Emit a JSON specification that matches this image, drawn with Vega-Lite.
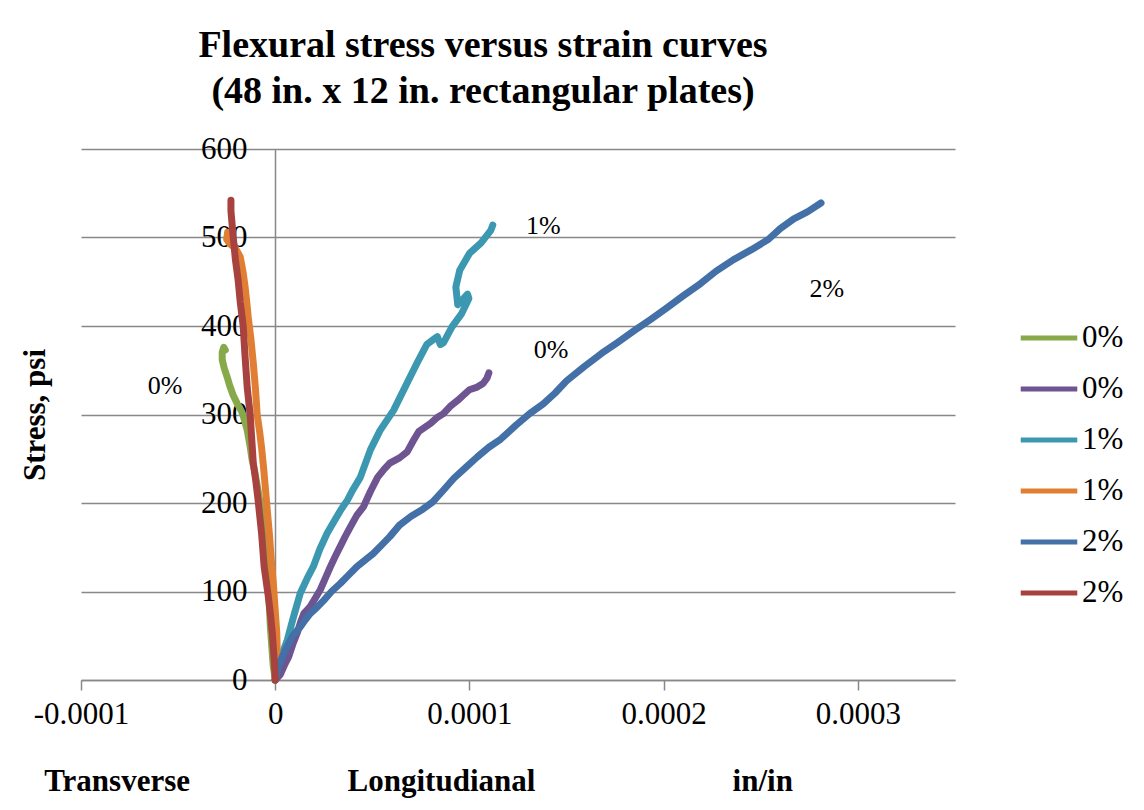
{
  "$schema": "https://vega.github.io/schema/vega-lite/v6.json",
  "width": 874,
  "height": 531,
  "autosize": "none",
  "padding": {"left": 81, "top": 149, "right": 189, "bottom": 130},
  "background": "white",
  "config": {"view": {"stroke": null}, "font": "Liberation Serif"},
  "title": {
    "text": ["Flexural stress versus strain curves", "(48 in. x 12 in. rectangular plates)"],
    "font": "Liberation Serif", "fontSize": 38, "fontWeight": "bold", "color": "black",
    "lineHeight": 46, "anchor": "middle", "dx": -35, "offset": 22
  },
  "datasets": {
    "curves": [
      {"series":"0% T","i":0,"e":0,"s":0},{"series":"0% T","i":1,"e":-0.6e-6,"s":10},{"series":"0% T","i":2,"e":-1.0e-6,"s":15},{"series":"0% T","i":3,"e":-2.0e-6,"s":45},{"series":"0% T","i":4,"e":-2.5e-6,"s":60},{"series":"0% T","i":5,"e":-3.3e-6,"s":95},{"series":"0% T","i":6,"e":-4.1e-6,"s":128},{"series":"0% T","i":7,"e":-5.0e-6,"s":150},{"series":"0% T","i":8,"e":-6.2e-6,"s":177},{"series":"0% T","i":9,"e":-7.5e-6,"s":195},{"series":"0% T","i":10,"e":-8.5e-6,"s":210},{"series":"0% T","i":11,"e":-1.05e-5,"s":235},{"series":"0% T","i":12,"e":-1.19e-5,"s":249},{"series":"0% T","i":13,"e":-1.3e-5,"s":265},{"series":"0% T","i":14,"e":-1.44e-5,"s":282},{"series":"0% T","i":15,"e":-1.6e-5,"s":295},{"series":"0% T","i":16,"e":-1.72e-5,"s":303},{"series":"0% T","i":17,"e":-1.95e-5,"s":312},{"series":"0% T","i":18,"e":-2.17e-5,"s":322},{"series":"0% T","i":19,"e":-2.35e-5,"s":333},{"series":"0% T","i":20,"e":-2.47e-5,"s":342},{"series":"0% T","i":21,"e":-2.62e-5,"s":352},{"series":"0% T","i":22,"e":-2.73e-5,"s":362},{"series":"0% T","i":23,"e":-2.73e-5,"s":370},{"series":"0% T","i":24,"e":-2.65e-5,"s":376},{"series":"0% T","i":25,"e":-2.57e-5,"s":373},

      {"series":"0% L","i":0,"e":0,"s":0},{"series":"0% L","i":1,"e":2.6e-6,"s":6},{"series":"0% L","i":2,"e":5e-6,"s":18},{"series":"0% L","i":3,"e":6.9e-6,"s":26},{"series":"0% L","i":4,"e":9e-6,"s":40},{"series":"0% L","i":5,"e":1.13e-5,"s":53},{"series":"0% L","i":6,"e":1.3e-5,"s":65},{"series":"0% L","i":7,"e":1.47e-5,"s":75},{"series":"0% L","i":8,"e":1.8e-5,"s":83},{"series":"0% L","i":9,"e":2.05e-5,"s":92},{"series":"0% L","i":10,"e":2.32e-5,"s":102},{"series":"0% L","i":11,"e":2.6e-5,"s":116},{"series":"0% L","i":12,"e":2.84e-5,"s":128},{"series":"0% L","i":13,"e":3.1e-5,"s":140},{"series":"0% L","i":14,"e":3.35e-5,"s":151},{"series":"0% L","i":15,"e":3.6e-5,"s":162},{"series":"0% L","i":16,"e":3.87e-5,"s":173},{"series":"0% L","i":17,"e":4.2e-5,"s":186},{"series":"0% L","i":18,"e":4.55e-5,"s":196},{"series":"0% L","i":19,"e":4.9e-5,"s":213},{"series":"0% L","i":20,"e":5.27e-5,"s":229},{"series":"0% L","i":21,"e":5.6e-5,"s":238},{"series":"0% L","i":22,"e":5.9e-5,"s":245},{"series":"0% L","i":23,"e":6.4e-5,"s":251},{"series":"0% L","i":24,"e":6.8e-5,"s":258},{"series":"0% L","i":25,"e":7.1e-5,"s":270},{"series":"0% L","i":26,"e":7.4e-5,"s":281},{"series":"0% L","i":27,"e":8.0e-5,"s":290},{"series":"0% L","i":28,"e":8.3e-5,"s":296},{"series":"0% L","i":29,"e":8.66e-5,"s":301},{"series":"0% L","i":30,"e":9.0e-5,"s":309},{"series":"0% L","i":31,"e":9.4e-5,"s":316},{"series":"0% L","i":32,"e":9.7e-5,"s":322},{"series":"0% L","i":33,"e":1.0e-4,"s":328},{"series":"0% L","i":34,"e":1.04e-4,"s":331},{"series":"0% L","i":35,"e":1.07e-4,"s":335},{"series":"0% L","i":36,"e":1.09e-4,"s":341},{"series":"0% L","i":37,"e":1.10e-4,"s":347},

      {"series":"1% L","i":0,"e":0,"s":0},{"series":"1% L","i":1,"e":1.5e-6,"s":19},{"series":"1% L","i":2,"e":4e-6,"s":32},{"series":"1% L","i":3,"e":6.2e-6,"s":45},{"series":"1% L","i":4,"e":9.5e-6,"s":72},{"series":"1% L","i":5,"e":1.29e-5,"s":98},{"series":"1% L","i":6,"e":1.65e-5,"s":115},{"series":"1% L","i":7,"e":1.96e-5,"s":128},{"series":"1% L","i":8,"e":2.3e-5,"s":148},{"series":"1% L","i":9,"e":2.68e-5,"s":166},{"series":"1% L","i":10,"e":3.1e-5,"s":182},{"series":"1% L","i":11,"e":3.4e-5,"s":193},{"series":"1% L","i":12,"e":3.71e-5,"s":203},{"series":"1% L","i":13,"e":4.0e-5,"s":215},{"series":"1% L","i":14,"e":4.38e-5,"s":229},{"series":"1% L","i":15,"e":4.9e-5,"s":260},{"series":"1% L","i":16,"e":5.4e-5,"s":282},{"series":"1% L","i":17,"e":6.1e-5,"s":305},{"series":"1% L","i":18,"e":6.8e-5,"s":336},{"series":"1% L","i":19,"e":7.3e-5,"s":358},{"series":"1% L","i":20,"e":7.8e-5,"s":379},{"series":"1% L","i":21,"e":8.1e-5,"s":384},{"series":"1% L","i":22,"e":8.35e-5,"s":388},{"series":"1% L","i":23,"e":8.5e-5,"s":379},{"series":"1% L","i":24,"e":8.66e-5,"s":381},{"series":"1% L","i":25,"e":9.1e-5,"s":399},{"series":"1% L","i":26,"e":9.6e-5,"s":414},{"series":"1% L","i":27,"e":9.97e-5,"s":431},{"series":"1% L","i":28,"e":9.9e-5,"s":436},{"series":"1% L","i":29,"e":9.4e-5,"s":424},{"series":"1% L","i":30,"e":9.3e-5,"s":444},{"series":"1% L","i":31,"e":9.5e-5,"s":463},{"series":"1% L","i":32,"e":1.0e-4,"s":482},{"series":"1% L","i":33,"e":1.06e-4,"s":494},{"series":"1% L","i":34,"e":1.11e-4,"s":508},{"series":"1% L","i":35,"e":1.12e-4,"s":514},

      {"series":"1% T","i":0,"e":0,"s":0},{"series":"1% T","i":1,"e":0.5e-6,"s":15},{"series":"1% T","i":2,"e":1.0e-6,"s":35},{"series":"1% T","i":3,"e":0.8e-6,"s":53},{"series":"1% T","i":4,"e":-0.2e-6,"s":85},{"series":"1% T","i":5,"e":-1.0e-6,"s":110},{"series":"1% T","i":6,"e":-2.0e-6,"s":135},{"series":"1% T","i":7,"e":-3.0e-6,"s":165},{"series":"1% T","i":8,"e":-4.1e-6,"s":192},{"series":"1% T","i":9,"e":-5.0e-6,"s":215},{"series":"1% T","i":10,"e":-6.0e-6,"s":240},{"series":"1% T","i":11,"e":-7.0e-6,"s":262},{"series":"1% T","i":12,"e":-8.0e-6,"s":280},{"series":"1% T","i":13,"e":-9.3e-6,"s":300},{"series":"1% T","i":14,"e":-1.02e-5,"s":330},{"series":"1% T","i":15,"e":-1.13e-5,"s":358},{"series":"1% T","i":16,"e":-1.25e-5,"s":385},{"series":"1% T","i":17,"e":-1.39e-5,"s":410},{"series":"1% T","i":18,"e":-1.48e-5,"s":430},{"series":"1% T","i":19,"e":-1.55e-5,"s":444},{"series":"1% T","i":20,"e":-1.65e-5,"s":460},{"series":"1% T","i":21,"e":-1.80e-5,"s":478},{"series":"1% T","i":22,"e":-2.05e-5,"s":488},{"series":"1% T","i":23,"e":-2.35e-5,"s":493},{"series":"1% T","i":24,"e":-2.5e-5,"s":498},{"series":"1% T","i":25,"e":-2.45e-5,"s":506},

      {"series":"2% L","i":0,"e":0,"s":0},{"series":"2% L","i":1,"e":1.5e-6,"s":15},{"series":"2% L","i":2,"e":4e-6,"s":28},{"series":"2% L","i":3,"e":6.2e-6,"s":38},{"series":"2% L","i":4,"e":9e-6,"s":50},{"series":"2% L","i":5,"e":1.29e-5,"s":60},{"series":"2% L","i":6,"e":1.55e-5,"s":68},{"series":"2% L","i":7,"e":1.8e-5,"s":75},{"series":"2% L","i":8,"e":2.15e-5,"s":82},{"series":"2% L","i":9,"e":2.5e-5,"s":90},{"series":"2% L","i":10,"e":2.9e-5,"s":100},{"series":"2% L","i":11,"e":3.35e-5,"s":109},{"series":"2% L","i":12,"e":3.75e-5,"s":118},{"series":"2% L","i":13,"e":4.2e-5,"s":128},{"series":"2% L","i":14,"e":4.6e-5,"s":135},{"series":"2% L","i":15,"e":5.05e-5,"s":143},{"series":"2% L","i":16,"e":5.5e-5,"s":153},{"series":"2% L","i":17,"e":5.9e-5,"s":162},{"series":"2% L","i":18,"e":6.4e-5,"s":175},{"series":"2% L","i":19,"e":7.0e-5,"s":185},{"series":"2% L","i":20,"e":7.6e-5,"s":193},{"series":"2% L","i":21,"e":8.1e-5,"s":201},{"series":"2% L","i":22,"e":8.6e-5,"s":213},{"series":"2% L","i":23,"e":9.2e-5,"s":228},{"series":"2% L","i":24,"e":9.8e-5,"s":240},{"series":"2% L","i":25,"e":1.04e-4,"s":252},{"series":"2% L","i":26,"e":1.1e-4,"s":263},{"series":"2% L","i":27,"e":1.16e-4,"s":272},{"series":"2% L","i":28,"e":1.24e-4,"s":288},{"series":"2% L","i":29,"e":1.31e-4,"s":301},{"series":"2% L","i":30,"e":1.38e-4,"s":312},{"series":"2% L","i":31,"e":1.44e-4,"s":324},{"series":"2% L","i":32,"e":1.5e-4,"s":338},{"series":"2% L","i":33,"e":1.59e-4,"s":354},{"series":"2% L","i":34,"e":1.68e-4,"s":369},{"series":"2% L","i":35,"e":1.76e-4,"s":381},{"series":"2% L","i":36,"e":1.85e-4,"s":395},{"series":"2% L","i":37,"e":1.93e-4,"s":407},{"series":"2% L","i":38,"e":2.02e-4,"s":421},{"series":"2% L","i":39,"e":2.1e-4,"s":434},{"series":"2% L","i":40,"e":2.19e-4,"s":448},{"series":"2% L","i":41,"e":2.27e-4,"s":462},{"series":"2% L","i":42,"e":2.36e-4,"s":475},{"series":"2% L","i":43,"e":2.45e-4,"s":486},{"series":"2% L","i":44,"e":2.54e-4,"s":498},{"series":"2% L","i":45,"e":2.6e-4,"s":510},{"series":"2% L","i":46,"e":2.67e-4,"s":521},{"series":"2% L","i":47,"e":2.74e-4,"s":529},{"series":"2% L","i":48,"e":2.81e-4,"s":539},

      {"series":"2% T","i":0,"e":0,"s":0},{"series":"2% T","i":1,"e":-0.3e-6,"s":15},{"series":"2% T","i":2,"e":-1.5e-6,"s":53},{"series":"2% T","i":3,"e":-2.5e-6,"s":75},{"series":"2% T","i":4,"e":-3.6e-6,"s":95},{"series":"2% T","i":5,"e":-5.7e-6,"s":128},{"series":"2% T","i":6,"e":-7.0e-6,"s":165},{"series":"2% T","i":7,"e":-8.8e-6,"s":203},{"series":"2% T","i":8,"e":-1.0e-5,"s":225},{"series":"2% T","i":9,"e":-1.13e-5,"s":245},{"series":"2% T","i":10,"e":-1.29e-5,"s":300},{"series":"2% T","i":11,"e":-1.44e-5,"s":330},{"series":"2% T","i":12,"e":-1.55e-5,"s":365},{"series":"2% T","i":13,"e":-1.65e-5,"s":400},{"series":"2% T","i":14,"e":-1.80e-5,"s":427},{"series":"2% T","i":15,"e":-1.91e-5,"s":452},{"series":"2% T","i":16,"e":-2.05e-5,"s":475},{"series":"2% T","i":17,"e":-2.16e-5,"s":500},{"series":"2% T","i":18,"e":-2.22e-5,"s":515},{"series":"2% T","i":19,"e":-2.28e-5,"s":530},{"series":"2% T","i":20,"e":-2.28e-5,"s":542}
    ],
    "notes": [
      {"t":"0%","e":-5.67e-5,"s":332},{"t":"1%","e":1.38e-4,"s":513},{"t":"0%","e":1.42e-4,"s":373},{"t":"2%","e":2.84e-4,"s":442}
    ],
    "captions": [
      {"t":"Transverse","e":-8.14e-5,"s":-115},{"t":"Longitudianal","e":8.56e-5,"s":-115},{"t":"in/in","e":2.51e-4,"s":-115}
    ]
  },
  "encoding": {
    "x": {
      "field": "e", "type": "quantitative",
      "scale": {"domain": [-0.0001, 0.00035], "nice": false, "zero": false},
      "axis": {
        "orient": "bottom", "values": [-0.0001, 0, 0.0001, 0.0002, 0.0003], "grid": false,
        "domainColor": "#888888", "domainWidth": 1.5, "tickColor": "#888888", "tickWidth": 1.5, "tickSize": 10,
        "labelFont": "Liberation Serif", "labelFontSize": 31, "labelColor": "black", "labelPadding": 9,
        "labelOverlap": false, "labelFlush": false, "title": null,
        "labelExpr": "datum.value == 0 ? '0' : (datum.value < 0 ? '-' : '') + format(abs(datum.value), '.4f')"
      }
    },
    "y": {
      "field": "s", "type": "quantitative",
      "scale": {"domain": [0, 600], "nice": false},
      "axis": {
        "orient": "left", "offset": -194, "values": [0, 100, 200, 300, 400, 500, 600],
        "grid": true, "gridColor": "#888888", "gridWidth": 1.5,
        "domainColor": "#888888", "domainWidth": 1.5, "ticks": false,
        "labelFont": "Liberation Serif", "labelFontSize": 31, "labelColor": "black", "labelPadding": 28,
        "title": "Stress, psi", "titleFont": "Liberation Serif", "titleFontSize": 31, "titleFontWeight": "bold",
        "titleColor": "black", "titleX": -231, "titleY": 265.5, "titleAngle": -90,
        "titleBaseline": "alphabetic", "titleAlign": "center"
      }
    }
  },
  "layer": [
    {
      "data": {"name": "curves"},
      "mark": {"type": "line", "strokeWidth": 7, "strokeCap": "round", "strokeJoin": "round"},
      "encoding": {
        "order": {"field": "i", "type": "quantitative"},
        "color": {
          "field": "series", "type": "nominal",
          "scale": {
            "domain": ["0% T", "0% L", "1% L", "1% T", "2% L", "2% T"],
            "range": ["#88A94A", "#6E5490", "#3C98B0", "#E07F33", "#4470A8", "#A8423F"]
          },
          "legend": {
            "orient": "none", "legendX": 937, "legendY": 158, "title": null,
            "symbolType": "stroke", "symbolSize": 3200, "symbolStrokeWidth": 5,
            "labelFont": "Liberation Serif", "labelFontSize": 31, "labelColor": "black",
            "labelOffset": 2, "rowPadding": 5,
            "labelExpr": "split(datum.label, ' ')[0]"
          }
        }
      }
    },
    {
      "data": {"name": "notes"},
      "mark": {"type": "text", "font": "Liberation Serif", "fontSize": 26, "color": "black", "align": "center", "baseline": "middle"},
      "encoding": {"text": {"field": "t"}}
    },
    {
      "data": {"name": "captions"},
      "mark": {"type": "text", "font": "Liberation Serif", "fontSize": 31, "fontWeight": "bold", "color": "black", "align": "center", "baseline": "middle"},
      "encoding": {"text": {"field": "t"}}
    }
  ]
}
